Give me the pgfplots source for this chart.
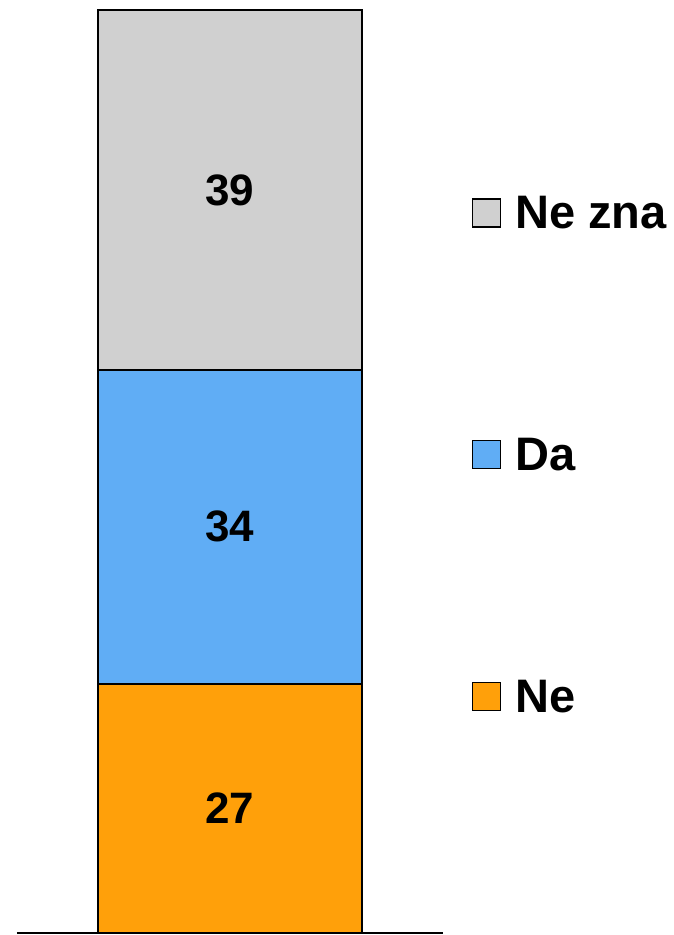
\documentclass[border=0pt]{standalone}
\usepackage{fontspec}
\setmainfont{Liberation Sans}
\usepackage{pgfplots}
\pgfplotsset{compat=1.18}
\definecolor{cgray}{RGB}{208,208,208}
\definecolor{cblue}{RGB}{96,173,245}
\definecolor{corange}{RGB}{255,160,10}
\begin{document}
\begin{tikzpicture}
\useasboundingbox (0,0) rectangle (673pt,935pt);
\begin{axis}[
  at={(17pt,2pt)}, anchor=south west,
  scale only axis, width=426pt, height=923pt,
  xmin=0, xmax=426, ymin=0, ymax=100,
  axis x line=bottom, axis y line=none,
  axis line style={-, line width=1.5pt, black},
  xtick=\empty, ytick=\empty,
  ybar stacked, bar width=264pt,
  clip=false,
  legend style={at={(1.068,0.518)}, anchor=west, draw=none, fill=none,
    inner sep=0pt, row sep=208pt, cells={anchor=west},
    font=\fontsize{47}{47}\selectfont\bfseries,
    nodes={inner sep=0pt}},
  legend image code/.code={\draw[#1, line width=1.2pt] (0pt,-14pt) rectangle (28pt,14pt);},
  /tikz/every odd column/.append style={column sep=14pt},
  reverse legend,
]
\addplot[fill=corange, draw=black, line width=1.5pt] coordinates {(213,27)};
\addplot[fill=cblue, draw=black, line width=1.5pt] coordinates {(213,34)};
\addplot[fill=cgray, draw=black, line width=1.5pt] coordinates {(213,39)};
\legend{Ne, Da, Ne zna}
\coordinate (l1) at (axis cs:213,13.5);
\coordinate (l2) at (axis cs:213,44);
\coordinate (l3) at (axis cs:213,80.5);
\end{axis}
\node[font=\fontsize{44}{44}\selectfont\bfseries] at (l1) {27};
\node[font=\fontsize{44}{44}\selectfont\bfseries] at (l2) {34};
\node[font=\fontsize{44}{44}\selectfont\bfseries] at (l3) {39};
\end{tikzpicture}
\end{document}
